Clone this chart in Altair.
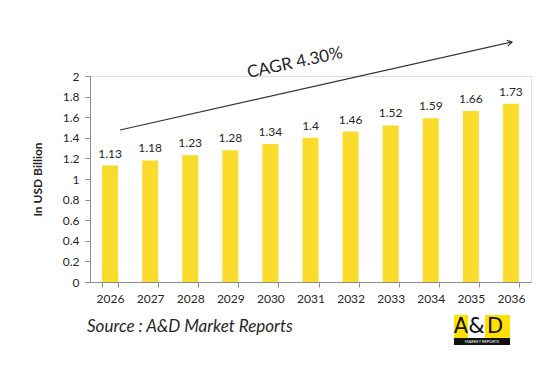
import altair as alt
import pandas as pd

years = ["2026", "2027", "2028", "2029", "2030", "2031", "2032", "2033", "2034", "2035", "2036"]
values = [1.13, 1.18, 1.23, 1.28, 1.34, 1.40, 1.46, 1.52, 1.59, 1.66, 1.73]
y_ticks = [0, 0.2, 0.4, 0.6, 0.8, 1, 1.2, 1.4, 1.6, 1.8, 2]
cagr_text = "CAGR 4.30%"
source_text = "Source : A&D Market Reports"
logo_letters = ["A", "&", "D"]

df = pd.DataFrame({"year": years, "value": values})
FONT = "Lato"
BAR = "#FBDB2C"
TXT = "#262626"

x = alt.X("year:N", title=None, sort=years,
          scale=alt.Scale(paddingInner=0.6, paddingOuter=0.3),
          axis=alt.Axis(labelAngle=0, labelFontSize=12, labelColor=TXT, labelFont=FONT,
                        domainColor="#8C8C8C", tickColor="#8C8C8C", tickSize=5,
                        tickBand="extent", labelPadding=6, labelOverlap=False))
y = alt.Y("value:Q", title="In USD Billion",
          scale=alt.Scale(domain=[0, 2], nice=False),
          axis=alt.Axis(values=y_ticks, tickCount=11, format="~g", labelFontSize=12,
                        labelColor=TXT, labelFont=FONT, grid=False, domainColor="#8C8C8C",
                        tickColor="#8C8C8C", tickSize=5, labelPadding=6,
                        labelOverlap=False,
                        titleFont=FONT, titleFontSize=12, titleFontWeight="bold",
                        titleColor=TXT, titlePadding=18))

base = alt.Chart(df)
bars = base.mark_bar(color=BAR).encode(x=x, y=y)
labels = base.mark_text(baseline="bottom", dy=-5, fontSize=12, font=FONT, color=TXT).encode(
    x=x, y=y, text=alt.Text("value:Q", format="~g"))

arrow_line = alt.Chart(pd.DataFrame({"a": [0]})).mark_rule(color="#333333", strokeWidth=1.2).encode(
    x=alt.value(30), y=alt.value(54), x2=alt.value(422), y2=alt.value(-34))
arrow_head = alt.Chart(pd.DataFrame({"a": [0]})).mark_point(
    shape="M-1,-0.6L0,0L-1,0.6", filled=False, color="#333333", strokeWidth=1.2,
    size=90, angle=347.35, opacity=1).encode(x=alt.value(422), y=alt.value(-34))
cagr = alt.Chart(pd.DataFrame({"t": [cagr_text]})).mark_text(
    fontSize=17, font=FONT, color=TXT, angle=348).encode(
    x=alt.value(205), y=alt.value(-13), text="t:N")
source = alt.Chart(pd.DataFrame({"t": [source_text]})).mark_text(
    fontSize=17, font=FONT, fontStyle="italic", color=TXT, align="left").encode(
    x=alt.value(-3), y=alt.value(251), text="t:N")

# logo
logo_rects = pd.DataFrame({
    "x1": [364, 378, 395], "x2": [378, 395, 420], "c": ["#FFE100", "#FFFFFF", "#FFE100"]})
logo_bg = alt.Chart(logo_rects).mark_rect().encode(
    x=alt.X("x1:Q", scale=None), x2="x2:Q", y=alt.value(239), y2=alt.value(262),
    color=alt.Color("c:N", scale=None))
logo_strip = alt.Chart(pd.DataFrame({"a": [0]})).mark_rect(color="#111111").encode(
    x=alt.value(364), x2=alt.value(420), y=alt.value(262), y2=alt.value(269))
logo_df = pd.DataFrame({"t": logo_letters, "px": [371, 386.5, 405]})
logo_text = alt.Chart(logo_df).mark_text(
    fontSize=21, font="DejaVu Sans", color="#111111", baseline="middle").encode(
    x=alt.X("px:Q", scale=None), y=alt.value(251), text="t:N")
logo_sub = alt.Chart(pd.DataFrame({"t": ["MARKET REPORTS"]})).mark_text(
    fontSize=4, font=FONT, color="#FFFFFF", baseline="middle").encode(
    x=alt.value(392), y=alt.value(265.5), text="t:N")

chart = alt.layer(bars, labels, arrow_line, arrow_head, cagr, source,
                  logo_bg, logo_strip, logo_text, logo_sub).properties(
    width=441, height=206,
    autosize=alt.AutoSizeParams(type="none"),
    padding={"left": 82, "top": 68, "right": 7, "bottom": 78},
).configure_view(stroke=None).configure(background="white")

chart.save("out.html", embed_options={"renderer": "svg", "actions": False})
